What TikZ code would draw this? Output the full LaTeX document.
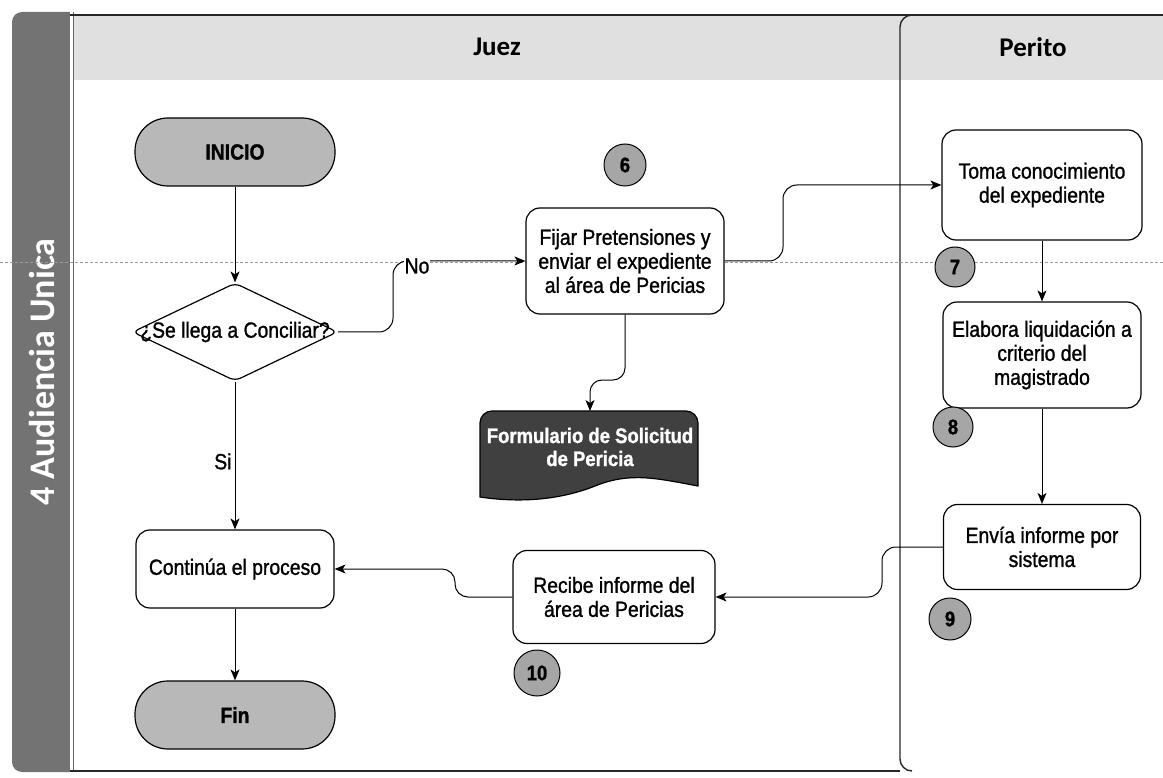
\documentclass[tikz,border=0pt]{standalone}
\usepackage{fontspec}
\usetikzlibrary{arrows.meta,shapes.geometric,calc}
\newfontfamily\boxfont[FakeStretch=0.88,FakeBold=1.2]{Liberation Sans}
\newfontfamily\headfont{Carlito}
\tikzset{
 box/.style={draw, line width=1.2pt, rounded corners=14pt, fill=white, align=center, font=\boxfont\fontsize{22}{24}\selectfont, inner sep=2pt},
 pill/.style={box, rounded corners=33pt, fill=black!28, font=\boxfont\bfseries\fontsize{22}{24}\selectfont, minimum width=200pt, minimum height=68pt},
 badge/.style={circle, draw, line width=1pt, fill=black!35, minimum size=42pt, inner sep=0pt, font=\boxfont\bfseries\fontsize{21}{21}\selectfont},
 arr/.style={draw, line width=1pt, -{Stealth[length=11pt,width=9pt,inset=3pt]}},
 frame/.style={line width=1.8pt, black!85},
 lbl/.style={font=\boxfont\fontsize{22}{24}\selectfont, inner sep=1pt},
 formfill/.style={fill=black!75, draw=black, line width=1.2pt},
 head/.style={font=\headfont\bfseries\fontsize{27}{27}\selectfont},
}
\begin{document}
\begin{tikzpicture}[x=1pt,y=-1pt]
\useasboundingbox (0,0) rectangle (1163,778);
% left band
\fill[black!55, rounded corners=10pt] (12,12) rectangle (95,772);
\fill[white] (70,10) rectangle (97,774);
% header strip
\fill[black!12] (74,15) rectangle (1163,80);
\draw[black!60, line width=1pt] (73,12) -- (73,772);
\node[rotate=90, text=white, font=\headfont\bfseries\fontsize{36}{36}\selectfont] (lane) at (42,372) {4 Audiencia Unica};
% frame lines
\draw[frame] (70,15) -- (1163,15);
\draw[frame] (70,771) -- (900,771);
\draw[line width=1.4pt, black!85, rounded corners=12pt] (930,15) -- (900,15) -- (900,771) -- (912,771);
% scan line
\draw[black!40, line width=0.6pt, dash pattern=on 3pt off 2pt] (0,262) -- (1163,262);
% headers
\node[head] (juez) at (497,47) {Juez};
\node[head] (perito) at (1033,47) {Perito};
% nodes
\node[pill] (ini) at (235,152) {INICIO};
\node[diamond, draw, line width=1.2pt, fill=white, minimum width=205pt, minimum height=98pt, inner sep=0pt, rounded corners=6pt] (dec) at (235,332) {};
\node[lbl] (dect) at (dec) {¿Se llega a Conciliar?};
\node[box, minimum width=198pt, minimum height=106pt] (fijar) at (625,261) {Fijar Pretensiones y\\enviar el expediente\\al área de Pericias};
\node[badge] (b6) at (625,165) {6};
\node[box, minimum width=200pt, minimum height=110pt] (toma) at (1042,185) {Toma conocimiento\\del expediente};
\node[badge, minimum size=40pt] (b7) at (955,267) {7};
\node[box, minimum width=198pt, minimum height=106pt] (elab) at (1042,355) {Elabora liquidación a\\criterio del\\magistrado};
\node[badge, minimum size=40pt] (b8) at (953,427) {8};
\node[box, minimum width=197pt, minimum height=85pt] (envia) at (1042,547) {Envía informe por\\sistema};
\node[badge] (b9) at (950,619) {9};
\node[box, minimum width=202pt, minimum height=93pt] (recibe) at (614,597) {Recibe informe del\\área de Pericias};
\node[badge, minimum size=46pt] (b10) at (537,673) {10};
\node[box, minimum width=198pt, minimum height=78pt] (cont) at (235,569) {Continúa el proceso};
\node[pill] (fin) at (235,715) {Fin};
% document shape
\filldraw[formfill] (480,460) [rounded corners=12pt] -- (480,411) -- (698,411) -- (698,460) [sharp corners] -- (698,486) .. controls (655,478) and (630,472) .. (595,486) .. controls (560,500) and (520,503) .. (480,497) -- cycle;
\node[font=\boxfont\bfseries\fontsize{21}{23}\selectfont, text=white, align=center] (form) at (590,447) {Formulario de Solicitud\\de Pericia};
\coordinate (formtop) at (590,411);
% connectors
\draw[arr] (ini) -- (dec);
\draw[arr, rounded corners=14pt] (dec.east) -- (393,332) -- (393,261) -- (fijar.west);
\node[lbl, fill=white] (no) at (417,266) {No};
\draw[arr, rounded corners=14pt] (fijar.east) -- (783,261) -- (783,185) -- (toma.west);
\draw[arr, rounded corners=12pt] (fijar.south) -- (625,380) -- (590,380) -- (formtop);
\draw[arr] (toma) -- (elab);
\draw[arr] (elab) -- (envia);
\draw[arr, rounded corners=14pt] (envia.west) -- (882,547) -- (882,597) -- (recibe.east);
\draw[arr, rounded corners=13pt] (recibe.west) -- (455,597) -- (455,569) -- (cont.east);
\draw[arr] (dec.south) -- node[lbl, left, pos=0.54, xshift=-2pt] (si) {Si} (cont.north);
\draw[arr] (cont) -- (fin);
\end{tikzpicture}
\end{document}
